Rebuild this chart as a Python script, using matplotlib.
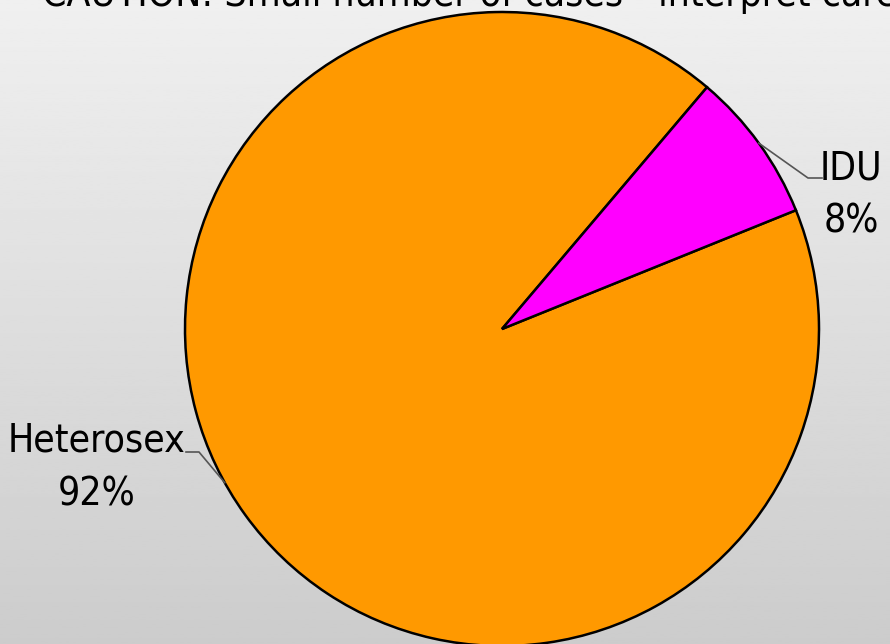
import numpy as np
import matplotlib.pyplot as plt
from matplotlib import font_manager

# data
categories = ["Heterosex", "IDU"]
cases = [12, 1]
pct_labels = ["92%", "8%"]
colors = ["#FF9900", "#FF00FF"]
title = "CAUTION: Small number of cases - interpret carefully"

# the reference uses a narrow sans; pick a condensed face if one is installed
narrow = None
for f in font_manager.fontManager.ttflist:
    if ('Narrow' in f.name or 'Condensed' in f.name or f.stretch in ('condensed', 'semi-condensed')) \
            and f.weight in (400, 'normal', 'regular') and f.style == 'normal':
        narrow = f.fname
        break

if narrow:
    fprop = font_manager.FontProperties(fname=narrow, size=28)
else:
    fprop = font_manager.FontProperties(family='Liberation Sans', size=27)

W, H = 890, 644
fig = plt.figure(figsize=(W / 100, H / 100), dpi=100)
ax = fig.add_axes([0, 0, 1, 1])

# grey gradient background
grad = np.linspace(0.80, 0.94, 256).reshape(-1, 1)
ax.imshow(grad, extent=(0, W, 0, H), origin='lower', cmap='gray', vmin=0, vmax=1,
          aspect='auto', zorder=0)

cx, cy, r = 502, H - 329, 317
start = 49.7
wedges, _ = ax.pie(cases, colors=colors, startangle=start, center=(cx, cy), radius=r,
                   wedgeprops=dict(edgecolor='black', linewidth=1.8), frame=True)
for w in wedges:
    w.set_zorder(2)

ax.set_xlim(0, W)
ax.set_ylim(0, H)
ax.set_aspect('auto')
ax.axis('off')

# leader lines: anchor angle on pie edge, elbow, end of short horizontal
def leader(angle, elbow, end):
    a = np.deg2rad(angle)
    px, py = cx + r * np.cos(a), cy + r * np.sin(a)
    ax.plot([px, elbow[0], end[0]], [py, elbow[1], end[1]], color='#555555', lw=1.2, zorder=3)

leader(209, (199, H - 452), (186, H - 452))
leader(35.9, (808, H - 178), (822, H - 178))

ax.text(97, H - 452, categories[0], ha='center', va='baseline', fontproperties=fprop, zorder=4)
ax.text(97, H - 505, pct_labels[0], ha='center', va='baseline', fontproperties=fprop, zorder=4)
ax.text(851, H - 179, categories[1], ha='center', va='baseline', fontproperties=fprop, zorder=4)
ax.text(851, H - 232, pct_labels[1], ha='center', va='baseline', fontproperties=fprop, zorder=4)

# title, clipped at the top edge as in the reference
ax.text(42, H - 6, title, ha='left', va='baseline', fontproperties=fprop, zorder=4)

fig.savefig('out.png', dpi=100)
